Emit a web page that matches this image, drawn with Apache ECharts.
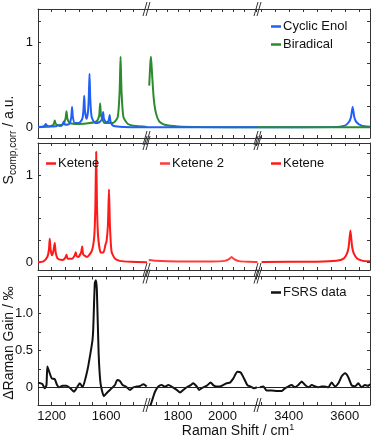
<!DOCTYPE html>
<html>
<head>
<meta charset="utf-8">
<script src="https://cdn.jsdelivr.net/npm/echarts@6/dist/echarts.min.js"></script>
<style>
html,body{margin:0;padding:0;background:#fff}
#chart{width:374px;height:438px}
</style>
</head>
<body>
<div id="chart"></div>
<script>
// broken x axis: three pieces, each with its own range (cm-1)
const segRanges = [[1100, 1900], [1660, 2160], [3290, 3690]];
const segTicks = [
	[1200, 1300, 1400, 1500, 1600, 1700, 1800],
	[1700, 1750, 1800, 1850, 1900, 1950, 2000, 2050, 2100, 2150],
	[3300, 3350, 3400, 3450, 3500, 3550, 3600, 3650]
];
const segLabels = [[1200, 1600], [1800, 2000], [3400, 3600]];

// y axes of the three panels
const panelY = [[-0.125, 1.39], [-0.09, 1.37], [-0.24, 1.5]];
const panelYTicks = [
	[0, 0.25, 0.5, 0.75, 1, 1.25],
	[0, 0.25, 0.5, 0.75, 1, 1.25],
	[0, 0.25, 0.5, 0.75, 1, 1.25]
];
const panelYLabels = [[0, 1], [0, 1], [0, 0.5, 1]];

// top panel: computed spectra
const enolSeg1 = [[1100,0.005],[1140,0.01],[1151,0.025],[1157,0.04],[1163,0.025],[1180,0.01],[1230,0.012],[1247,0.025],[1262,0.015],[1280,0.03],[1289,0.07],[1298,0.03],[1330,0.04],[1344,0.12],[1350,0.24],[1356,0.12],[1370,0.05],[1400,0.05],[1425,0.1],[1433,0.19],[1439,0.37],[1445,0.19],[1456,0.1],[1466,0.17],[1472,0.32],[1478,0.63],[1484,0.32],[1494,0.12],[1520,0.05],[1550,0.06],[1567,0.09],[1573,0.12],[1578,0.18],[1584,0.1],[1600,0.06],[1615,0.07],[1621,0.1],[1626,0.145],[1632,0.07],[1650,0.02],[1700,0.006],[1800,0.002],[1900,0]];
const enolSeg2 = [[1660,0],[2160,0]];
const enolSeg3 = [[3290,0],[3560,0.004],[3600,0.02],[3614,0.06],[3622,0.12],[3628,0.24],[3634,0.12],[3642,0.06],[3660,0.02],[3690,0.008]];

const biradSeg1 = [[1100,0],[1180,0.01],[1210,0.025],[1217,0.045],[1223,0.08],[1229,0.045],[1245,0.025],[1285,0.04],[1302,0.1],[1309,0.19],[1316,0.1],[1335,0.05],[1400,0.04],[1480,0.05],[1530,0.07],[1549,0.14],[1556,0.28],[1563,0.14],[1590,0.05],[1650,0.05],[1685,0.12],[1699,0.42],[1706,0.83],[1713,0.42],[1727,0.12],[1760,0.04],[1820,0.015],[1900,0.005]];
const biradSeg2 = [[1670,0.49],[1675,0.75],[1678,0.83],[1683,0.62],[1690,0.35],[1700,0.17],[1715,0.07],[1740,0.03],[1800,0.01],[1900,0.004],[2160,0]];
const biradSeg3 = [[3290,0],[3690,0]];

// middle panel: ketene
const keteneSeg1 = [[1100,0],[1140,0.01],[1168,0.06],[1180,0.14],[1186,0.27],[1193,0.14],[1203,0.08],[1212,0.12],[1223,0.22],[1230,0.11],[1245,0.04],[1280,0.025],[1300,0.05],[1309,0.085],[1318,0.04],[1350,0.04],[1370,0.08],[1377,0.115],[1384,0.07],[1395,0.06],[1416,0.11],[1424,0.18],[1432,0.09],[1460,0.06],[1495,0.13],[1513,0.3],[1521,0.65],[1527,1.27],[1533,0.65],[1541,0.3],[1560,0.11],[1580,0.11],[1595,0.2],[1603,0.24],[1613,0.42],[1621,0.835],[1628,0.42],[1640,0.12],[1665,0.04],[1700,0.015],[1780,0.004],[1900,0]];
const keteneSeg2 = [[1668,0.025],[1700,0.015],[1800,0.008],[1950,0.008],[2010,0.015],[2030,0.035],[2041,0.06],[2052,0.035],[2075,0.012],[2120,0.005],[2158,0.003]];
const keteneSeg3 = [[3303,0.003],[3500,0.005],[3570,0.015],[3596,0.04],[3608,0.1],[3614,0.18],[3620,0.365],[3626,0.18],[3632,0.1],[3645,0.04],[3665,0.015],[3690,0.01]];

// bottom panel: measured FSRS
const fsrsSeg1 = [[1100,0.063],[1132,0.045],[1149,-0.014],[1162,0.03],[1169,0.28],[1186,0.19],[1201,0.12],[1223,0.11],[1240,0.03],[1255,0],[1280,0.02],[1309,0.02],[1338,-0.014],[1363,-0.06],[1387,0],[1407,0.054],[1427,0],[1451,0.14],[1468,0.28],[1493,0.55],[1500,0.64],[1505,0.77],[1517,1.41],[1525,1.45],[1532,1.32],[1545,0.46],[1559,0.054],[1584,-0.12],[1603,-0.08],[1640,-0.014],[1665,0.03],[1681,0.1],[1701,0.086],[1721,0.03],[1745,0.01],[1775,-0.036],[1799,0],[1824,0.01],[1849,0.018],[1873,0.04],[1898,0.01]];
const fsrsSeg2 = [[1674,-0.26],[1686,-0.15],[1696,-0.06],[1711,0.01],[1726,0.03],[1741,0.01],[1756,0.03],[1771,0.01],[1794,-0.036],[1809,-0.07],[1823,-0.036],[1839,0],[1857,0.03],[1868,0.054],[1884,0.01],[1895,-0.036],[1913,0],[1928,0.018],[1947,0.063],[1958,0.03],[1974,0.01],[1988,0.01],[2003,0.03],[2019,0.054],[2034,0.063],[2049,0.12],[2067,0.21],[2082,0.2],[2097,0.12],[2112,0.03],[2127,0.01],[2142,-0.014],[2155,0]];
const fsrsSeg3 = [[3297,0],[3309,0.01],[3321,-0.045],[3339,-0.045],[3357,-0.05],[3375,-0.05],[3386,-0.014],[3398,0.01],[3410,0.03],[3422,0],[3434,0.03],[3446,0.077],[3458,0.03],[3470,0],[3482,0.03],[3494,0.01],[3505,0],[3517,0.01],[3528,0.01],[3541,0],[3553,0.063],[3565,0.01],[3577,0.054],[3589,0.15],[3601,0.19],[3612,0.14],[3624,0.03],[3636,0.01],[3648,0.054],[3660,0],[3672,0.03],[3684,0.018],[3690,0.045]];

// layout in pixels
const segLeft = [38, 147, 258];
const segWidth = [109, 111, 112];
const panelTop = [9, 143, 276.5];
const panelHeight = [129, 127, 128.5];

const frameColor = '#333';
const font = '"Liberation Sans", Arial, sans-serif';

function buildAxes(){
	let grid = [], xAxis = [], yAxis = [];
	for(let p=0;p<3;p++){
		for(let s=0;s<3;s++){
			let g = p*3+s;
			grid.push({left: segLeft[s], top: panelTop[p], width: segWidth[s], height: panelHeight[p]});
			// bottom and top edges
			['bottom','top'].forEach((pos)=>{
				xAxis.push({
					type: 'value', gridIndex: g, position: pos,
					min: segRanges[s][0], max: segRanges[s][1],
					axisLine: {show: true, onZero: false, lineStyle: {color: frameColor, width: 1}},
					axisTick: {show: true, inside: true, length: 3, customValues: segTicks[s], lineStyle: {color: frameColor}},
					axisLabel: {
						show: pos === 'bottom' && p === 2,
						customValues: segLabels[s],
						color: '#111', fontSize: 13, fontFamily: font, margin: 5,
						formatter: (v)=> String(v)
					},
					splitLine: {show: false}
				});
			});
			let yAx = {
				type: 'value', gridIndex: g,
				min: panelY[p][0], max: panelY[p][1],
				splitLine: {show: false}
			};
			if(s === 0){
				yAx.position = 'left';
				yAx.axisLine = {show: true, lineStyle: {color: frameColor, width: 1}};
				yAx.axisTick = {show: true, inside: true, length: 3, customValues: panelYTicks[p], lineStyle: {color: frameColor}};
				yAx.axisLabel = {
					show: true, customValues: panelYLabels[p], color: '#111', fontSize: 13, fontFamily: font, margin: 5,
					formatter: (v)=> (p === 2 && v !== 0) ? v.toFixed(1) : String(v)
				};
			}else if(s === 2){
				yAx.position = 'right';
				yAx.axisLine = {show: true, lineStyle: {color: frameColor, width: 1}};
				yAx.axisTick = {show: true, inside: true, length: 3, customValues: panelYTicks[p], lineStyle: {color: frameColor}};
				yAx.axisLabel = {show: false};
			}else{
				yAx.show = false;
			}
			yAxis.push(yAx);
		}
	}
	return {grid, xAxis, yAxis};
}

function line(name, data, g, color, extra){
	return Object.assign({
		name: name, type: 'line', data: data,
		xAxisIndex: g*2, yAxisIndex: g,
		showSymbol: false, symbol: 'none', smooth: 0.2,
		lineStyle: {color: color, width: 2},
		itemStyle: {color: color},
		animation: false
	}, extra || {});
}

function buildSeries(){
	const blue = '#2160f5', green = '#2d8a2d', red = '#ff1a1a', red2 = '#ff3b3b', black = '#111';
	let series = [];
	series.push(line('Biradical', biradSeg1, 0, green));
	series.push(line('Cyclic Enol', enolSeg1, 0, blue));
	series.push(line('Biradical', biradSeg2, 1, green));
	series.push(line('Cyclic Enol', enolSeg2, 1, blue));
	series.push(line('Cyclic Enol', enolSeg3, 2, blue));
	series.push(line('Biradical', biradSeg3, 2, green));

	series.push(line('Ketene', keteneSeg1, 3, red));
	series.push(line('Ketene 2', keteneSeg2, 4, red2));
	series.push(line('Ketene', keteneSeg3, 5, red));

	const zeroLine = {
		silent: true, symbol: 'none', label: {show: false},
		lineStyle: {color: '#222', width: 1, type: 'solid'},
		data: [{yAxis: 0}]
	};
	[fsrsSeg1, fsrsSeg2, fsrsSeg3].forEach((d, s)=>{
		series.push(line('FSRS data', d, 6+s, black, {markLine: zeroLine}));
	});
	return series;
}

function legendAt(names, left, top){
	return {
		data: names, left: left, top: top, orient: 'vertical',
		selectedMode: false, icon: 'rect', itemWidth: 10, itemHeight: 2.5, itemGap: 5,
		textStyle: {color: '#111', fontSize: 13, fontFamily: font, padding: [0,0,0,-3]}
	};
}

function breakMarks(){
	let els = [];
	for(let p=0;p<3;p++){
		[panelTop[p], panelTop[p]+panelHeight[p]].forEach((y)=>{
			[segLeft[1], segLeft[2]].forEach((x)=>{
				[-1.5, 1.5].forEach((dx)=>{
					els.push({
						type: 'line', silent: true,
						shape: {x1: x+dx-2.5, y1: y+7, x2: x+dx+1.5, y2: y-7},
						style: {stroke: frameColor, lineWidth: 1}
					});
				});
			});
		});
	}
	return els;
}

function initChart(){
	const myChart = echarts.init(document.getElementById('chart'), null, {renderer: 'canvas'});
	let ax = buildAxes();
	let graphics = breakMarks();
	graphics.push({
		type: 'text', x: 9, y: 140, rotation: Math.PI/2,
		style: {
			text: '{n|S}{s|comp,corr}{n| / a.u.}',
			align: 'center', verticalAlign: 'middle', fill: '#111',
			rich: {
				n: {fontSize: 14, fontFamily: font, fill: '#111', lineHeight: 18},
				s: {fontSize: 10, fontFamily: font, fill: '#111', verticalAlign: 'bottom', lineHeight: 14}
			}
		}
	});
	graphics.push({
		type: 'text', x: 9, y: 343, rotation: Math.PI/2,
		style: {text: '\u0394Raman Gain / \u2030', align: 'center', verticalAlign: 'middle', fill: '#111', font: '14px ' + font}
	});
	graphics.push({
		type: 'text', x: 238, y: 431,
		style: {
			text: '{n|Raman Shift / cm}{u|1}',
			align: 'center', verticalAlign: 'middle', fill: '#111',
			rich: {
				n: {fontSize: 14, fontFamily: font, fill: '#111', lineHeight: 16},
				u: {fontSize: 9, fontFamily: font, fill: '#111', verticalAlign: 'top', lineHeight: 16}
			}
		}
	});

	let option = {
		animation: false,
		grid: ax.grid,
		xAxis: ax.xAxis,
		yAxis: ax.yAxis,
		legend: [
			legendAt(['Cyclic Enol', 'Biradical'], 266, 15),
			legendAt(['Ketene'], 41, 152),
			legendAt(['Ketene 2'], 155, 152),
			legendAt(['Ketene'], 266, 152),
			legendAt(['FSRS data'], 266, 281)
		],
		graphic: graphics,
		series: buildSeries()
	};
	myChart.setOption(option);
}

initChart();
</script>
</body>
</html>
